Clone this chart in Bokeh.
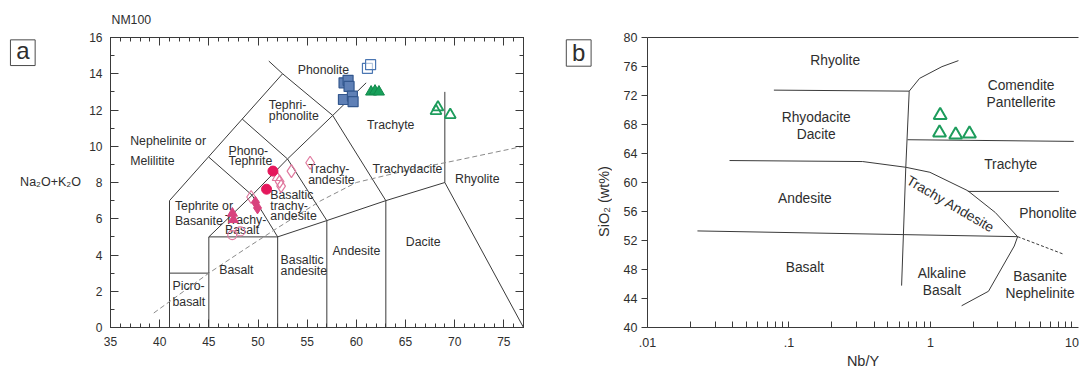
import math
from bokeh.plotting import figure
from bokeh.models import (Range1d, LinearAxis, LogAxis, SingleIntervalTicker, FixedTicker,
                          ColumnDataSource, CustomJSTickFormatter)
from bokeh.layouts import row
from bokeh.core.properties import value
from bokeh.embed import file_html
from bokeh.resources import INLINE

FONT = "Liberation Sans"
INK = "#2e2e2e"
LINE = "#3a3a3a"

# ---------------- Panel a : TAS diagram ----------------
tas_lines_x = [[41, 41], [41, 45], [45, 45], [45, 52], [52, 52], [52, 57, 63, 69], [57, 57],
               [63, 63], [69, 77], [69, 69], [45, 49.4, 53, 57.6, 61.0], [49.4, 52],
               [53, 57], [57.6, 63], [52.5, 57.6], [41, 52.5], [52.5, 51.1], [45, 49.4],
               [48.4, 53]]
tas_lines_y = [[0, 7], [3, 3], [0, 5], [5, 5], [0, 5], [5, 5.9, 7, 8], [0, 5.9],
               [0, 7], [8, 0], [8, 13], [5, 7.3, 9.3, 11.7, 13.5], [7.3, 5],
               [9.3, 5.9], [11.7, 7], [14, 11.7], [7, 14], [14, 14.7], [9.4, 7.3],
               [11.5, 9.3]]
alk_x = [39.4, 45, 48.6, 52, 56.4, 60, 65, 70, 77]
alk_y = [0.8, 3.0, 4.3, 5.5, 7.0, 8.0, 8.65, 9.2, 10.0]

tas_text = ["Phonolite", "Tephri-\nphonolite", "Nephelinite or\nMelilitite", "Phono-\nTephrite",
            "Trachyte", "Trachy-\nandesite", "Trachydacite", "Rhyolite",
            "Basaltic\ntrachy-\nandesite", "Tephrite or\nBasanite", "Trachy-\nBasalt", "Basalt",
            "Basaltic\nandesite", "Andesite", "Dacite", "Picro-\nbasalt"]
tas_tx = [56.65, 51.1, 37.0, 47.0, 63.5, 55.1, 65.2, 72.3, 51.25, 41.55, 46.65, 47.8, 52.3, 60.0, 66.8, 41.3]
tas_ty = [14.2, 11.98, 9.73, 9.45, 11.2, 8.45, 8.72, 8.19, 6.71, 6.31, 5.67, 3.2, 3.42, 4.21, 4.7, 1.83]
tas_align = ["center", "left", "left", "left", "center", "left", "center", "center",
             "left", "left", "left", "center", "left", "center", "center", "left"]
tas_lh = [1.0, 0.82, 1.46, 0.74, 1.0, 0.74, 1.0, 1.0, 0.75, 1.08, 0.74, 1.0, 0.74, 1.0, 1.0, 1.14]

blue_fill_x = [58.75, 59.16, 59.26, 58.69, 59.6, 59.67]
blue_fill_y = [13.5, 13.64, 13.3, 12.58, 12.77, 12.46]
blue_open_x = [61.13, 61.45]
blue_open_y = [14.3, 14.5]
green_fill_x = [61.5, 61.9, 62.3]
green_fill_y = [13.0, 13.05, 13.0]
green_open_x = [68.1, 68.3, 69.55]
green_open_y = [11.95, 12.15, 11.73]
red_circle_x = [51.52, 50.87]
red_circle_y = [8.63, 7.63]
pink_open_diamond_x = [53.4, 55.3, 52.2, 52.35, 49.3]
pink_open_diamond_y = [8.63, 9.09, 8.05, 7.8, 7.2]
pink_open_triangle_x = [51.96]
pink_open_triangle_y = [8.27]
pink_fill_diamond_x = [49.75, 49.95]
pink_fill_diamond_y = [6.9, 6.6]
pink_fill_triangle_x = [47.4, 47.5]
pink_fill_triangle_y = [6.3, 5.95]
pink_open_circle_x = [47.38, 48.2]
pink_open_circle_y = [5.1, 5.3]

# ---------------- Panel b : Nb/Y vs SiO2 ----------------
wf_lines_x = [[0.0782, 0.7073], [0.7073, 0.837, 1.205, 1.576], [0.7073, 0.669, 0.625],
              [0.688, 10.3], [0.038, 0.332, 0.669, 0.99, 1.834, 2.871, 4.13],
              [1.834, 8.09], [0.02254, 4.13], [4.13, 3.91, 2.57, 1.66]]
wf_lines_y = [[72.74, 72.6], [72.6, 74.36, 75.98, 76.81], [72.6, 62.1, 45.78],
              [65.9, 65.67], [63.03, 62.89, 62.1, 61.41, 58.87, 55.86, 52.53],
              [58.77, 58.77], [53.32, 52.53], [52.53, 51.24, 45.0, 43.0]]
wf_dash_x = [4.13, 8.81]
wf_dash_y = [52.53, 50.08]

wf_text = ["Rhyolite", "Comendite\nPantellerite", "Rhyodacite\nDacite", "Trachyte", "Andesite",
           "Phonolite", "Basalt", "Alkaline\nBasalt", "Basanite\nNephelinite"]
wf_tx = [0.2121, 4.37, 0.1558, 3.69, 0.1295, 6.77, 0.1295, 1.205, 5.95]
wf_ty = [76.81, 72.23, 67.79, 62.47, 57.85, 55.72, 48.23, 46.24, 45.83]
wf_rot_text = ["Trachy Andesite"]
wf_rot_x = [1.386]
wf_rot_y = [57.0]

b_tri_x = [1.171, 1.159, 1.507, 1.886]
b_tri_y = [69.27, 66.87, 66.59, 66.73]

# ---------------- layout constants (page pixels) ----------------
H = 371
TOP, BOTTOM = 37, 44          # shared frame borders

# ---------------- helpers ----------------
def style_axis(ax, major_in=0, major_out=0, minor_in=0, minor_out=0, size="12px",
               standoff=8, labels=True):
    ax.major_tick_in = major_in
    ax.major_tick_out = major_out
    ax.minor_tick_in = minor_in
    ax.minor_tick_out = minor_out
    ax.axis_line_color = LINE
    ax.major_tick_line_color = LINE
    ax.minor_tick_line_color = LINE
    ax.major_label_text_font = FONT
    ax.major_label_text_font_size = size
    ax.major_label_text_color = INK
    ax.major_label_standoff = standoff
    if not labels:
        ax.formatter = CustomJSTickFormatter(code="return ''")
        ax.major_label_text_font_size = "1px"
        ax.major_label_standoff = 0


def side_figure(x0, x1):
    s = figure(width=x1 - x0, height=H, x_range=Range1d(x0, x1),
               y_range=Range1d(H - BOTTOM, TOP), output_backend="svg", toolbar_location=None,
               x_axis_location=None, y_axis_location=None, min_border_left=0,
               min_border_right=0, min_border_top=TOP, min_border_bottom=BOTTOM)
    s.grid.visible = False
    s.outline_line_color = None
    return s


def panel_tag(s, letter, cx, cy, w, h, ty):
    s.rect(x=[cx], y=[cy], width=w, height=h, fill_color="white",
           line_color="#4a4a4a", line_width=1)
    s.text(x=[cx], y=[ty], text=[letter], text_font=value(FONT), text_font_size="24px",
           text_color=INK, text_align="center", text_baseline="middle")


# ---------------- side strip a ----------------
sa = side_figure(0, 85)
panel_tag(sa, "a", 22.3, 52.2, 24.7, 25.7, 49.8)
sa.text(x=[50], y=[181.7], text=["Na\u2082O+K\u2082O"], text_font=value(FONT),
        text_font_size="12.5px", text_color=INK, text_align="center", text_baseline="middle")

# ---------------- figure a ----------------
pa = figure(width=455, height=H, x_range=Range1d(35, 77), y_range=Range1d(0, 16),
            output_backend="svg", toolbar_location=None,
            min_border_left=25, min_border_right=17, min_border_top=TOP,
            min_border_bottom=BOTTOM)
pa.xgrid.visible = False
pa.ygrid.visible = False
pa.outline_line_color = LINE
pa.title.text = "NM100"
pa.title.align = "left"
pa.title.text_font = FONT
pa.title.text_font_size = "12.3px"
pa.title.text_font_style = "normal"
pa.title.text_color = INK
pa.title.offset = 1
pa.title.standoff = 21

pa.xaxis[0].ticker = SingleIntervalTicker(interval=5, num_minor_ticks=5)
pa.yaxis[0].ticker = SingleIntervalTicker(interval=2, num_minor_ticks=2)
style_axis(pa.xaxis[0], major_in=8, minor_in=4, standoff=9)
style_axis(pa.yaxis[0], major_in=8, minor_in=4, standoff=8)
top_a = LinearAxis(ticker=SingleIntervalTicker(interval=5, num_minor_ticks=5))
style_axis(top_a, major_in=8, minor_in=4, labels=False)
pa.add_layout(top_a, "above")
right_a = LinearAxis(ticker=SingleIntervalTicker(interval=2, num_minor_ticks=2))
style_axis(right_a, major_in=8, minor_in=4, labels=False)
pa.add_layout(right_a, "right")

pa.multi_line(xs=tas_lines_x, ys=tas_lines_y, line_color=LINE, line_width=1)
pa.line(alk_x, alk_y, line_color="#8a8a8a", line_width=1, line_dash="5 3")

combos = sorted(set(zip(tas_align, tas_lh)))
for al, lh in combos:
    idx = [i for i in range(len(tas_text)) if tas_align[i] == al and tas_lh[i] == lh]
    src = ColumnDataSource(dict(x=[tas_tx[i] for i in idx], y=[tas_ty[i] for i in idx],
                                t=[tas_text[i] for i in idx]))
    pa.text(x="x", y="y", text="t", source=src, text_font=value(FONT),
            text_font_size="12.3px", text_color=INK, text_align=al,
            text_baseline="middle", text_line_height=lh)

pa.scatter(blue_fill_x, blue_fill_y, marker="square", size=10, fill_color="#5f80b6",
           line_color="#33578e", line_width=1.2)
pa.scatter(blue_open_x, blue_open_y, marker="square", size=10, fill_color="white",
           fill_alpha=0.6, line_color="#4a76b2", line_width=1.2)
pa.scatter(green_fill_x, green_fill_y, marker="triangle", size=11, fill_color="#17a05a",
           line_color="#13894c", line_width=1)
pa.scatter(green_open_x, green_open_y, marker="triangle", size=11, fill_color=None,
           line_color="#1d9c5c", line_width=1.8)
pa.scatter(pink_open_diamond_x, pink_open_diamond_y, marker="diamond", size=13,
           fill_color=None, line_color="#e0799f", line_width=1.2)
pa.scatter(pink_open_triangle_x, pink_open_triangle_y, marker="triangle", size=10,
           fill_color=None, line_color="#e0799f", line_width=1.2)
pa.scatter(pink_fill_diamond_x, pink_fill_diamond_y, marker="diamond", size=12,
           fill_color="#d8437e", line_color="#d8437e", line_width=1)
pa.scatter(pink_fill_triangle_x, pink_fill_triangle_y, marker="triangle", size=10,
           fill_color="#d8437e", line_color="#d8437e", line_width=1)
pa.scatter(pink_open_circle_x, pink_open_circle_y, marker="circle", size=9,
           fill_color=None, line_color="#e0799f", line_width=1.2)
pa.scatter(red_circle_x, red_circle_y, marker="circle", size=10, fill_color="#e5175c",
           line_color="#e5175c", line_width=1)

# ---------------- side strip b ----------------
sb = side_figure(540, 612)
panel_tag(sb, "b", 578.2, 52.5, 24.8, 26.4, 52.2)
sb.text(x=[603.3], y=[201], text=["SiO\u2082 (wt%)"], angle=math.pi / 2, text_font=value(FONT),
        text_font_size="14.5px", text_color=INK, text_align="center", text_baseline="middle")

# ---------------- figure b ----------------
pb = figure(width=468, height=H, x_axis_type="log", x_range=Range1d(0.01, 11.12),
            y_range=Range1d(40, 80), output_backend="svg", toolbar_location=None,
            min_border_left=35, min_border_right=2, min_border_top=TOP,
            min_border_bottom=BOTTOM)
pb.xgrid.visible = False
pb.ygrid.visible = False
pb.outline_line_color = None

minor_b = [m * 10.0 ** e for e in (-2, -1, 0) for m in range(2, 10)]
pb.xaxis[0].ticker = FixedTicker(ticks=[0.01, 0.1, 1, 10], minor_ticks=minor_b)
pb.xaxis[0].formatter = CustomJSTickFormatter(
    code="return tick < 1 ? tick.toString().replace(/^0/, '') : tick.toString()")
style_axis(pb.xaxis[0], major_in=6, minor_in=6, size="12.5px", standoff=10)
pb.xaxis[0].axis_label = "Nb/Y"
pb.xaxis[0].axis_label_text_font = FONT
pb.xaxis[0].axis_label_text_font_size = "14.5px"
pb.xaxis[0].axis_label_text_font_style = "normal"
pb.xaxis[0].axis_label_text_color = INK
pb.xaxis[0].axis_label_standoff = 3
pb.yaxis[0].ticker = FixedTicker(ticks=list(range(40, 81, 4)))
style_axis(pb.yaxis[0], major_out=6, size="12.5px", standoff=4)
top_b = LogAxis(ticker=FixedTicker(ticks=[]))
style_axis(top_b, labels=False)
pb.add_layout(top_b, "above")

pb.multi_line(xs=wf_lines_x, ys=wf_lines_y, line_color=LINE, line_width=1)
pb.line(wf_dash_x, wf_dash_y, line_color=LINE, line_width=1, line_dash="3 2")

src_b = ColumnDataSource(dict(x=wf_tx, y=wf_ty, t=wf_text))
pb.text(x="x", y="y", text="t", source=src_b, text_font=value(FONT),
        text_font_size="13.8px", text_color=INK, text_align="center",
        text_baseline="middle", text_line_height=1.15)
pb.text(x=wf_rot_x, y=wf_rot_y, text=wf_rot_text, angle=-0.527, text_font=value(FONT),
        text_font_size="13.8px", text_color=INK, text_align="center", text_baseline="middle")

pb.scatter(b_tri_x, b_tri_y, marker="triangle", size=13, fill_color=None,
           line_color="#1d9c5c", line_width=2)

layout = row(sa, pa, sb, pb)
open("out.html", "w").write(file_html(layout, INLINE))
